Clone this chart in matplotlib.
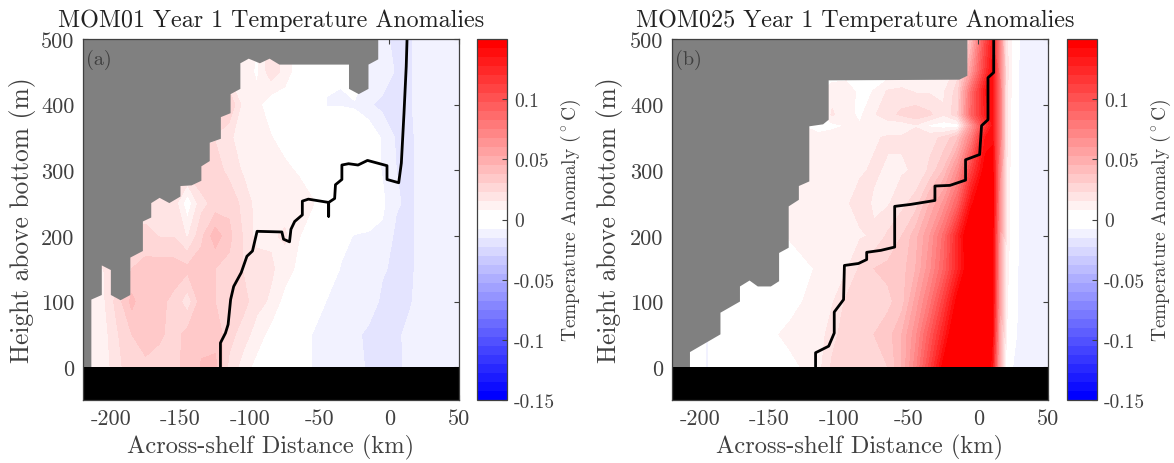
import numpy as np
import matplotlib
matplotlib.use('Agg')
import matplotlib.pyplot as plt
from matplotlib.cm import ScalarMappable
from matplotlib.colors import ListedColormap, BoundaryNorm

plt.rcParams['font.family'] = 'cmr10'
plt.rcParams['mathtext.fontset'] = 'cm'
plt.rcParams['axes.unicode_minus'] = False

# Panel (a) MOM01, anomalies in 0.001 degC
x_a = [-215, -205, -195, -185, -175, -165, -155, -145, -135, -125, -115, -105, -95, -85,
       -75, -65, -55, -45, -35, -25, -15, -5, 5, 15, 25, 35, 50]
z_a = [0, 50, 100, 150, 200, 250, 300, 350, 400, 450, 500]
temp_a = [
    [10, 11, 20, 28, 28, 25, 27, 33, 38, 40, 20, 12, 4, 2, 1, -4, -8, -9, -9, -10, -17, -17, -18, -11, -9, -9, -9],
    [10, 12, 22, 30, 34, 32, 26, 33, 36, 34, 26, 18, 12, 4, 3, -2, -8, -9, -9, -13, -17, -17, -17, -12, -9, -9, -9],
    [10, 14, 26, 40, 30, 32, 28, 18, 34, 30, 28, 26, 17, 14, 4, 3, 0, -8, -9, -9, -10, -17, -17, -16, -9, -9, -9],
    [15, 15, 20, 30, 33, 34, 34, 32, 34, 30, 28, 22, 20, 16, 12, 5, 2, -1, -8, -9, -9, -14, -17, -17, -10, -9, -9],
    [15, 15, 20, 25, 25, 22, 22, 14, 28, 42, 32, 22, 12, 14, 16, 8, 3, -2, -5, -8, -9, -9, -17, -17, -10, -9, -9],
    [15, 15, 15, 18, 18, 18, 20, 2, 20, 25, 28, 20, 12, 10, 12, 14, 8, 2, -8, 3, 2, -6, -14, -17, -10, -9, -9],
    [20, 20, 20, 20, 20, 20, 20, 25, 28, 26, 20, 14, 14, 12, 10, 6, 4, -8, 3, 3, -3, -8, -15, -17, -10, -9, -9],
    [20, 20, 20, 20, 20, 20, 20, 20, 20, 22, 16, 12, 14, 8, 3, 2, 2, 2, 2, 2, 0, -9, -16, -17, -10, -9, -9],
    [30, 30, 30, 30, 30, 30, 30, 30, 30, 30, 30, 12, 10, 2, 2, 2, 1, -8, -8, -9, -14, -17, -17, -16, -9, -9, -9],
    [12, 12, 12, 12, 12, 12, 12, 12, 12, 12, 12, 12, 6, 20, 12, 2, 2, -6, -7, 3, -9, -10, -16, -16, -10, -9, -9],
    [12, 12, 12, 12, 12, 12, 12, 12, 12, 12, 12, 12, 8, 20, 12, 2, 2, -6, -7, 3, -9, -14, -16, -16, -10, -9, -9],
]
# upper limit of the water column in (a)
topo_x_a = [-214, -214, -206.5, -206.5, -200, -200, -193, -186, -186, -177, -177, -171, -171, -165, -158,
            -150, -150, -142, -135, -135, -129, -129, -121, -121, -114, -114, -107, -107, -101, -93, -86,
            -79, -29, -29, -22, -15, -15, -8, -8]
topo_z_a = [0, 103, 110, 155, 148, 110, 102, 110, 167, 177, 222, 228, 250, 258, 250,
            260, 276, 277, 284, 306, 314, 342, 348, 381, 387, 416, 424, 463, 470, 463, 470,
            461, 461, 424, 416, 424, 461, 469, 500]
# black isoline in (a)
line_x_a = [-121.3, -121.3, -117.7, -115.8, -114, -111.8, -106.4, -102.3, -98.3, -95, -77.2, -76, -71.7,
            -70.7, -68, -62.5, -62.5, -58.2, -43.6, -43.6, -43.6, -39.3, -38.7, -34.1, -34.1, -29.3,
            -22.5, -15.7, -1.7, -1.7, 6.7, 8.6, 10.5, 12.1, 12.7]
line_z_a = [0, 37, 52, 65, 103, 123, 144, 169, 177, 207, 206, 195, 191,
            210, 222, 232, 253, 256, 251, 230, 251, 257, 278, 286, 308, 310,
            308, 315, 307, 286, 281, 311, 387, 458, 500]

# Panel (b) MOM025
x_b = [-215, -195, -175, -155, -135, -115, -105, -95, -85, -75, -65, -55, -45, -35, -25, -15,
       -5, 5, 10, 15, 20, 25, 30, 50]
z_b = [0, 50, 100, 150, 200, 250, 300, 350, 368, 385, 420, 450, 500]
temp_b = [
    [2, -8, 3, 3, 5, 12, 24, 26, 27, 28, 30, 45, 72, 108, 148, 172, 178, 165, 135, 50, 4, -8, -10, -10],
    [2, -8, 3, 4, 10, 10, 20, 26, 28, 30, 34, 45, 65, 95, 128, 165, 175, 168, 145, 55, 8, -5, -10, -10],
    [2, -3, 3, 4, 4, 12, 14, 24, 28, 28, 28, 34, 55, 78, 110, 148, 170, 168, 150, 60, 10, -3, -10, -10],
    [2, 2, 3, 3, 5, 8, 10, 14, 24, 30, 32, 34, 45, 65, 90, 125, 160, 165, 150, 62, 12, -2, -10, -10],
    [2, 2, 3, 3, 8, 12, 12, 12, 14, 16, 24, 30, 42, 60, 85, 125, 165, 165, 150, 65, 14, 0, -10, -10],
    [3, 3, 3, 3, 8, 10, 12, 14, 18, 14, 14, 20, 26, 45, 62, 90, 140, 160, 155, 70, 14, 0, -10, -10],
    [10, 10, 10, 10, 10, 10, 12, 14, 14, 16, 14, 14, 16, 24, 38, 65, 110, 150, 150, 75, 16, 0, -10, -10],
    [10, 10, 10, 10, 10, 10, 12, 14, 14, 14, 16, 16, 20, 20, 24, 36, 75, 135, 140, 85, 18, 2, -10, -10],
    [10, 10, 10, 10, 10, 4, 5, 8, 8, 8, 10, 10, 14, 6, 3, 4, 60, 115, 135, 85, 18, 2, -10, -10],
    [10, 10, 10, 10, 10, 5, 16, 10, 6, 14, 20, 24, 28, 24, 16, 28, 90, 130, 140, 85, 18, 2, -10, -10],
    [5, 5, 5, 5, 5, 5, 12, 14, 4, 8, 16, 18, 14, 14, 14, 26, 85, 135, 140, 85, 18, 3, -10, -10],
    [2, 2, 2, 2, 2, 2, 2, 2, 2, 2, 2, 2, 2, 2, 5, 20, 60, 115, 140, 80, 20, 3, -10, -10],
    [2, 2, 2, 2, 2, 2, 2, 2, 2, 2, 2, 2, 2, 2, 5, 15, 40, 105, 130, 75, 18, 4, -9, -9],
]
topo_x_b = [-207.1, -207.1, -185.2, -185.2, -171.2, -171.2, -164.3, -158.4, -149, -143.1, -143.1, -136.2,
            -136.2, -128.9, -128.9, -121.4, -121.4, -111.5, -107.5, -107.5, -13.7, -7.9, -7.9]
topo_z_b = [0, 23, 50, 83, 100, 123, 132, 123, 123, 131, 174, 182,
            245, 255, 276, 283, 367, 370, 377, 437, 438, 444, 500]
line_x_b = [-116.9, -116.9, -107.5, -103.5, -103.5, -96.8, -96.2, -86.1, -80.2, -80.2, -70, -60.1, -60.1,
            -48.6, -31.2, -31.2, -20.4, -9.2, -9.2, 0.9, 2.3, 6.9, 6.9, 11, 11]
line_z_b = [0, 22, 32, 52, 84, 103, 155, 158, 164, 175, 178, 183, 245,
            248, 254, 276, 277, 285, 316, 324, 368, 377, 441, 449, 500]

x_ticks = [-200, -150, -100, -50, 0, 50]
y_ticks = [0, 100, 200, 300, 400, 500]
cbar_ticks = [-0.15, -0.1, -0.05, 0, 0.05, 0.1]
cbar_labels = ['-0.15', '-0.1', '-0.05', '0', '0.05', '0.1']

# 40 flat bands, blue through white to red, the two middle ones white
ramp = np.linspace(0, 1, 20)
blues = [(1 - r, 1 - r, 1) for r in ramp[::-1]]
reds = [(1, 1 - r, 1 - r) for r in ramp]
cmap = ListedColormap(blues + reds)
levels = np.linspace(-0.15, 0.15, 41)

text_col = '#404040'
W, H = 1174, 464


def panel(box, cbox, x, z, temp, topo_x, topo_z, line_x, line_z, title, title_x, ylab_x, tag):
    ax = fig.add_axes([box[0] / W, 1 - box[3] / H, (box[1] - box[0]) / W, (box[3] - box[2]) / H])
    cax = fig.add_axes([cbox[0] / W, 1 - box[3] / H, (cbox[1] - cbox[0]) / W, (box[3] - box[2]) / H])
    # each panel gets its own norm, a shared one resets the first colorbar's ticks
    norm = BoundaryNorm(levels, cmap.N, clip=True)
    ax.contourf(x, z, np.array(temp) / 1000.0, levels=levels, cmap=cmap, norm=norm, extend='both')
    # land above the topography, solid below z = 0
    ax.fill([-220] + topo_x + [-220], [0] + topo_z + [500], color='#808080', lw=0, zorder=2)
    ax.fill_between([-220, 50], -50, 0, color='black', lw=0, zorder=2)
    ax.plot(line_x, line_z, color='black', lw=2.0, zorder=3, solid_joinstyle='round')

    ax.set_xlim(-220, 50)
    ax.set_ylim(-50, 500)
    ax.set_xticks(x_ticks)
    ax.set_xticklabels([str(t) for t in x_ticks])
    ax.set_yticks(y_ticks)
    ax.set_yticklabels([str(t) for t in y_ticks])
    ax.tick_params(direction='in', top=True, right=True, length=3.5, width=0.8, colors=text_col,
                   labelsize=16, pad=6)
    for s in ax.spines.values():
        s.set_color(text_col)
        s.set_linewidth(0.9)
        s.set_zorder(5)
    ax.set_xlabel('Across-shelf Distance (km)', fontsize=17.6, color=text_col, va='center')
    ax.xaxis.set_label_coords(0.5, -0.13)
    ax.set_ylabel('Height above bottom (m)', fontsize=18.3, color=text_col, va='center')
    ax.yaxis.set_label_coords(ylab_x, 0.5)
    ax.set_title(title, fontsize=17.3, color='#222222', x=title_x, pad=9)
    ax.text(-218, 470, tag, fontsize=14.5, color=text_col, va='center', zorder=6)

    cb = fig.colorbar(ScalarMappable(norm=norm, cmap=cmap), cax=cax, ticks=cbar_ticks, spacing='proportional')
    cb.ax.minorticks_off()
    cb.ax.set_yticks(cbar_ticks)
    cb.ax.set_yticklabels(cbar_labels)
    cb.ax.tick_params(direction='in', length=3.5, width=0.8, colors=text_col, labelsize=14, pad=5)
    cb.outline.set_edgecolor(text_col)
    cb.outline.set_linewidth(0.9)
    cb.set_label(r'Temperature Anomaly ($^\circ$C)', fontsize=14, color=text_col, labelpad=3)


fig = plt.figure(figsize=(W / 100, H / 100), dpi=100)
panel((83, 459, 40, 401), (477, 507), x_a, z_a, temp_a, topo_x_a, topo_z_a, line_x_a, line_z_a,
      'MOM01 Year 1 Temperature Anomalies', 0.5, -0.162, '(a)')
panel((672, 1048, 40, 401), (1067, 1097), x_b, z_b, temp_b, topo_x_b, topo_z_b, line_x_b, line_z_b,
      'MOM025 Year 1 Temperature Anomalies', 0.487, -0.165, '(b)')
fig.savefig('out.png', dpi=100)
